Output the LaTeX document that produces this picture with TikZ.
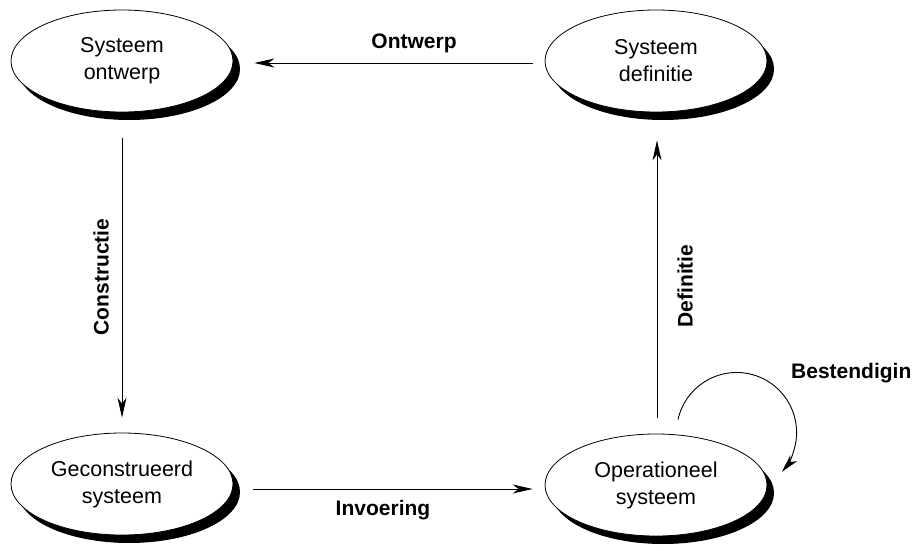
\documentclass[tikz,border=0pt]{standalone}
\usepackage{fontspec}
\setmainfont{Liberation Sans}
\usetikzlibrary{shapes.geometric,shadows,arrows.meta}
\tikzset{
  state/.style={ellipse, draw=black, line width=0.8pt, fill=white,
    minimum width=222pt, minimum height=102pt, inner sep=0pt, align=center,
    font=\fontsize{21.5}{27}\selectfont,
    drop shadow={shadow xshift=7pt, shadow yshift=-8pt, fill=black, opacity=1}},
  arr/.style={line width=0.9pt, -{Stealth[length=20pt,width=9pt,inset=6pt]}},
  lbl/.style={font=\fontsize{21}{25}\selectfont\bfseries, inner sep=0pt}
}
\begin{document}
\begin{tikzpicture}[x=1pt,y=-1pt]
\useasboundingbox (0,0) rectangle (916,551);
\node[state] (so) at (122,61) {Systeem\\ontwerp};
\node[state] (sd) at (656,61) {Systeem\\definitie};
\node[state] (gs) at (122,484) {Geconstrueerd\\systeem};
\node[state] (op) at (656,485) {Operationeel\\systeem};

\draw[arr] ([shift={(-12,2)}]sd.west) -- ([shift={(21,2)}]so.east);
\draw[arr] ([shift={(0,26)}]so.south) -- ([shift={(0,-15)}]gs.north);
\draw[arr] ([shift={(20,5)}]gs.east) -- ([shift={(-12,4)}]op.west);
\draw[arr] ([shift={(1,-16)}]op.north) -- ([shift={(1,28)}]sd.south);
\draw[line width=0.9pt, -{Stealth[length=18pt,width=9pt,inset=5pt]}]
  ([shift={(22,-14)}]op.north) arc[start angle=192.4, end angle=401, radius=60];

\node[lbl] (lo) at (414,43) {Ontwerp};
\node[lbl, rotate=90] (lc) at (101,277) {Constructie};
\node[lbl] (li) at (383,510) {Invoering};
\node[lbl, rotate=90] (ld) at (685,286) {Definitie};
\node[lbl, anchor=base west] (lb) at (791,378) {Bestendigin};
\end{tikzpicture}
\end{document}
